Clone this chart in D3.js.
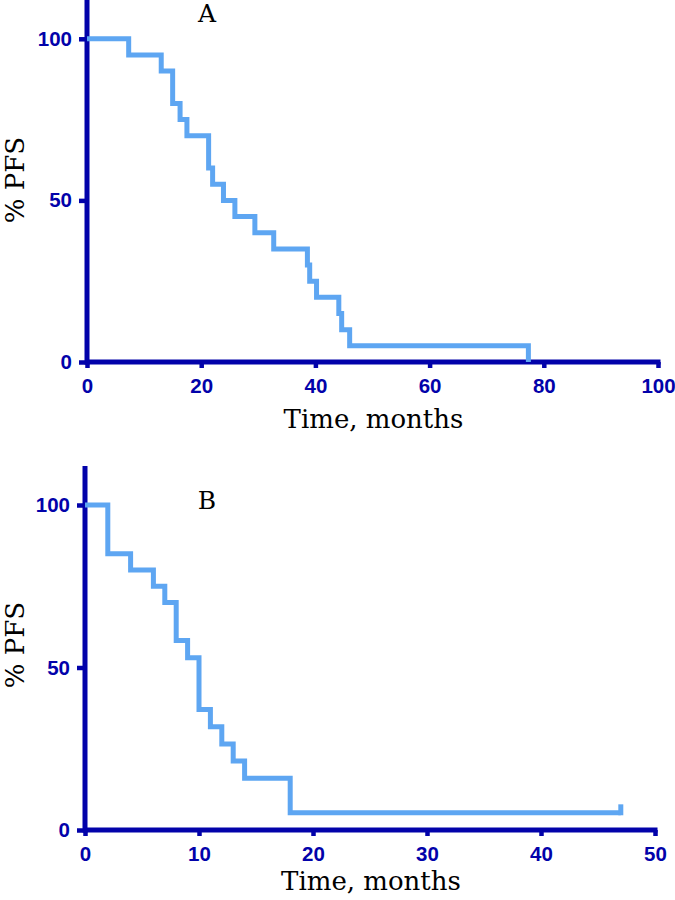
<!DOCTYPE html>
<html>
<head>
<meta charset="utf-8">
<script src="https://cdn.jsdelivr.net/npm/d3@7"></script>
<style>
  html, body { margin: 0; padding: 0; background: #fff; }
  svg { display: block; }
</style>
</head>
<body>
<svg id="chart" width="675" height="900"></svg>
<script>
// ---- Data ----
// Panel A: Kaplan-Meier steps (time in months, % PFS after the event)
const timesA = [0, 7.3, 13.0, 15.0, 16.3, 17.5, 21.3, 22.0, 23.9, 25.9, 29.4, 32.7, 38.6, 39.0, 40.2, 44.1, 44.6, 46.0, 77.3];
const pfsA   = [100, 95, 90, 80, 75, 70, 60, 55, 50, 45, 40, 35, 30, 25, 20, 15, 10, 5, 0];
const censorA = [];
const xTicksA = [0, 20, 40, 60, 80, 100];
const yTicksA = [0, 50, 100];

// Panel B
const timesB = [0, 2, 4, 6, 7, 8, 9, 10, 11, 12, 13, 14, 18];
const pfsB   = [100, 85, 80, 75, 70, 58.3, 53.0, 37.1, 31.8, 26.5, 21.2, 15.9, 5.3];
const censorB = [47];
const endB = 47;
const xTicksB = [0, 10, 20, 30, 40, 50];
const yTicksB = [0, 50, 100];

const labelA = "A", labelB = "B";
const xTitle = "Time, months";
const yTitle = "% PFS";

// ---- Styles ----
const axisColor = "#0202aa";
const curveColor = "#5ea6f2";
const svg = d3.select("#chart");

function panel(cfg) {
  const g = svg.append("g");
  const x = d3.scaleLinear().domain(cfg.xDomain).range([cfg.x0, cfg.x1]);
  const y = d3.scaleLinear().domain([0, 112]).range([cfg.yBottom, cfg.yTop]);

  const xAxis = d3.axisBottom(x).tickValues(cfg.xTicks).tickSize(6).tickSizeOuter(0).tickPadding(10);
  const yAxis = d3.axisLeft(y).tickValues(cfg.yTicks).tickSize(8).tickSizeOuter(0).tickPadding(7);

  const gx = g.append("g").attr("transform", `translate(0,${cfg.yBottom})`).call(xAxis);
  const gy = g.append("g").attr("transform", `translate(${cfg.x0},0)`).call(yAxis);

  [gx, gy].forEach(a => {
    a.select(".domain").remove();
    a.selectAll(".tick line").attr("stroke", axisColor).attr("stroke-width", 4.5);
    a.selectAll(".tick text")
      .attr("fill", axisColor)
      .style("font-family", "'Liberation Sans', Arial, sans-serif")
      .style("font-weight", "bold")
      .style("font-size", "20.5px");
  });
  g.append("line")
    .attr("x1", cfg.x0).attr("x2", cfg.x1 + 2.5)
    .attr("y1", cfg.yBottom).attr("y2", cfg.yBottom)
    .attr("stroke", axisColor).attr("stroke-width", 5);
  g.append("line")
    .attr("x1", cfg.x0).attr("x2", cfg.x0)
    .attr("y1", cfg.yBottom + 2.5).attr("y2", cfg.yTop)
    .attr("stroke", axisColor).attr("stroke-width", 5);

  // KM step curve
  const pts = cfg.times.map((t, i) => [t, cfg.pfs[i]]);
  if (cfg.end !== undefined) pts.push([cfg.end, cfg.pfs[cfg.pfs.length - 1]]);
  const line = d3.line().x(d => x(d[0])).y(d => y(d[1])).curve(d3.curveStepAfter);
  g.append("path")
    .datum(pts)
    .attr("fill", "none")
    .attr("stroke", curveColor)
    .attr("stroke-width", 5)
    .attr("stroke-linejoin", "miter")
    .attr("stroke-linecap", "butt")
    .attr("d", line);

  // Censor marks
  const lastLevel = cfg.pfs[cfg.pfs.length - 1];
  g.selectAll(".censor").data(cfg.censor).enter().append("line")
    .attr("x1", d => x(d)).attr("x2", d => x(d))
    .attr("y1", y(lastLevel) + 2.5).attr("y2", y(lastLevel + 2.6))
    .attr("stroke", curveColor).attr("stroke-width", 5);

  const serif = "'DejaVu Serif', Georgia, serif";
  g.append("text")
    .attr("x", (cfg.x0 + cfg.x1) / 2 + 1)
    .attr("y", cfg.yBottom + cfg.titleOffset)
    .attr("text-anchor", "middle")
    .style("font-family", serif)
    .style("font-size", "26px")
    .attr("fill", "#000")
    .text(xTitle);

  g.append("text")
    .attr("transform", `translate(${cfg.yTitleX},${cfg.yTitleY}) rotate(-90)`)
    .attr("text-anchor", "middle")
    .style("font-family", serif)
    .style("font-size", "26px")
    .attr("fill", "#000")
    .text(yTitle);

  g.append("text")
    .attr("x", cfg.labelX)
    .attr("y", cfg.labelY)
    .attr("text-anchor", "middle")
    .style("font-family", serif)
    .style("font-size", "25px")
    .attr("fill", "#000")
    .text(cfg.label);
}

panel({
  times: timesA, pfs: pfsA, censor: censorA,
  xDomain: [0, 100], xTicks: xTicksA, yTicks: yTicksA,
  x0: 87, x1: 658, yBottom: 362, yTop: 0,
  titleOffset: 66, yTitleX: 24, yTitleY: 180,
  label: labelA, labelX: 207, labelY: 22
});

panel({
  times: timesB, pfs: pfsB, censor: censorB, end: endB,
  xDomain: [0, 50], xTicks: xTicksB, yTicks: yTicksB,
  x0: 85, x1: 655, yBottom: 830, yTop: 466,
  titleOffset: 60, yTitleX: 24, yTitleY: 645,
  label: labelB, labelX: 207, labelY: 509
});
</script>
</body>
</html>
